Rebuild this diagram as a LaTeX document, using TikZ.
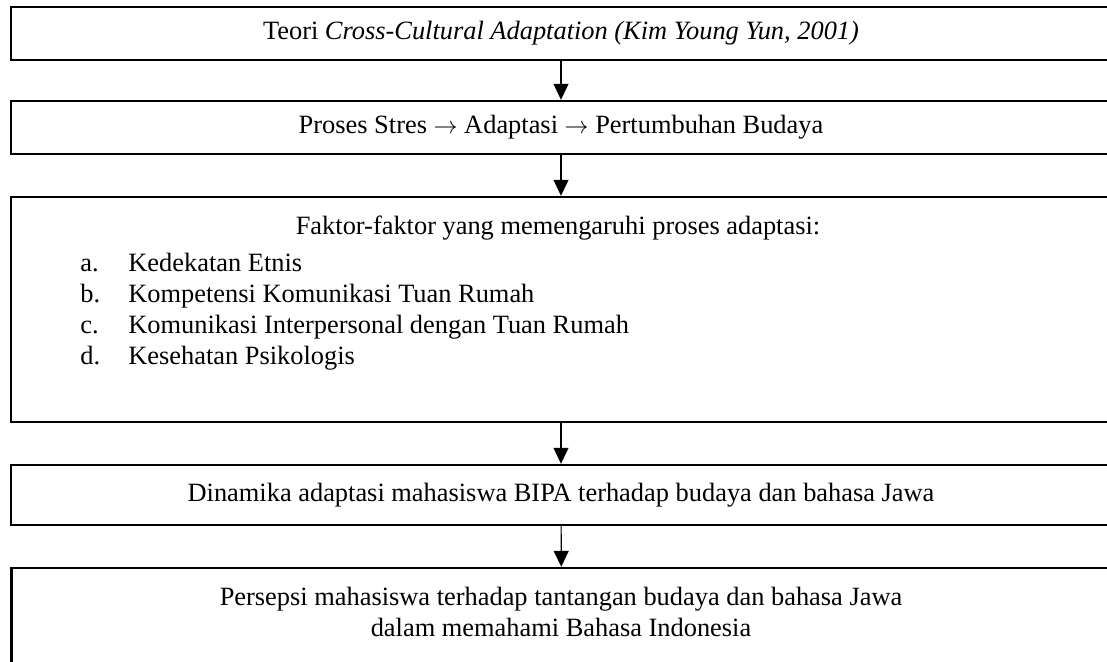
\documentclass[tikz,border=0pt]{standalone}
\usepackage{fontspec}
\setmainfont{Liberation Serif}
\usetikzlibrary{arrows.meta}
\tikzset{
    box/.style={draw, line width=1.2pt, minimum width=550pt, inner sep=0pt, align=center},
    item/.style={anchor=west, inner sep=0pt, text height=1.6ex, text depth=.3ex},
    arr/.style={-{Triangle[width=7.5pt,length=8pt]}, line width=0.6pt}
}

\begin{document}
\begin{tikzpicture}[x=0.5pt, y=-0.5pt, font=\fontsize{13.2}{15.5}\selectfont]
    \useasboundingbox (0,0) rectangle (1107,662);
    \clip (0,0) rectangle (1107,662);
    \node[box, minimum height=26.5pt] (teori) at (561,33.5) {Teori \textit{Cross-Cultural Adaptation (Kim Young Yun, 2001)}};
    \node[box, minimum height=26.5pt] (proses) at (561,127.5) {Proses Stres $\rightarrow$ Adaptasi $\rightarrow$ Pertumbuhan Budaya};
    \node[box, minimum height=112.5pt] (faktor) at (561,309.5) {};
    \node (judul) at (558,228) {Faktor-faktor yang memengaruhi proses adaptasi:};
    \node[item] (hurufA) at (80,266) {a.};
    \node[item] (itemA) at (128,266) {Kedekatan Etnis};
    \node[item] (hurufB) at (80,297) {b.};
    \node[item] (itemB) at (128,297) {Kompetensi Komunikasi Tuan Rumah};
    \node[item] (hurufC) at (80,328) {c.};
    \node[item] (itemC) at (128,328) {Komunikasi Interpersonal dengan Tuan Rumah};
    \node[item] (hurufD) at (80,359) {d.};
    \node[item] (itemD) at (128,359) {Kesehatan Psikologis};
    \node[box, minimum height=30pt] (dinamika) at (561,495) {Dinamika adaptasi mahasiswa BIPA terhadap budaya dan bahasa Jawa};
    \node[box, minimum height=66pt] (kotak) at (561.5,634) {};
    \node[align=center] (persepsi) at (561,612) {Persepsi mahasiswa terhadap tantangan budaya dan bahasa Jawa\\dalam memahami Bahasa Indonesia};
    \draw[arr] (teori) -- (proses);
    \draw[arr] (proses) -- (faktor);
    \draw[arr] (faktor) -- (dinamika);
    \draw[arr] (dinamika) -- (kotak);
\end{tikzpicture}
\end{document}
